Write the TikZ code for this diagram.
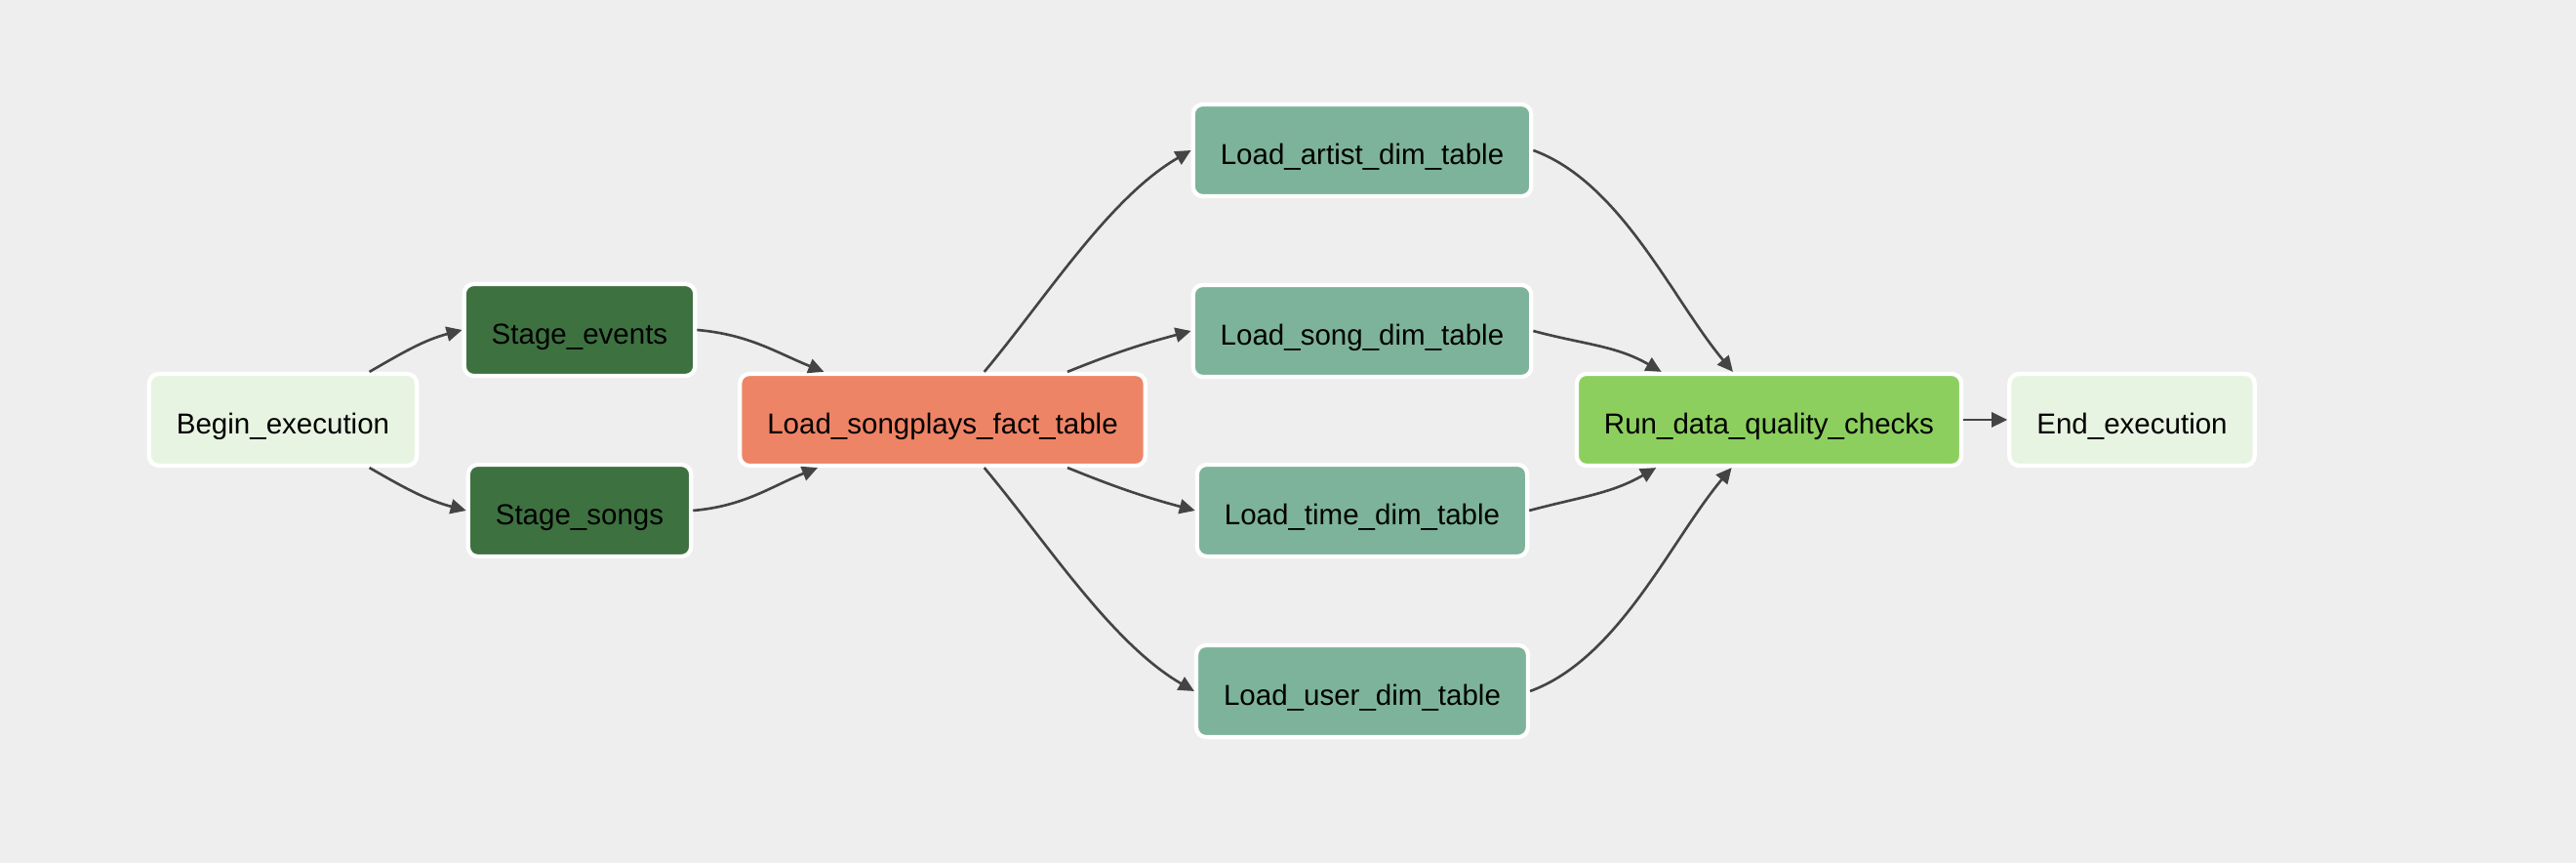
\documentclass[tikz,border=0pt]{standalone}
\usepackage{fontspec}
\setmainfont{Liberation Sans}
\usepackage{xcolor}
\usepackage{tikz}
\usetikzlibrary{arrows.meta,positioning,calc}

\definecolor{canvas}{HTML}{EEEEEE}
\definecolor{dummy}{HTML}{E8F4E2}
\definecolor{stage}{HTML}{3D7140}
\definecolor{fact}{HTML}{EE8466}
\definecolor{dim}{HTML}{7DB39A}
\definecolor{check}{HTML}{8CCF5F}
\definecolor{edge}{HTML}{444444}

\begin{document}
\begin{tikzpicture}[x=1cm,y=1cm,
  task/.style={draw=white,line width=1.2pt,rounded corners=2.8pt,minimum height=0.94cm,
    inner xsep=0.28cm,text height=8pt,text depth=0pt,font=\fontsize{8.4}{10}\selectfont},
  flow/.style={draw=edge,line width=0.75pt,-{Triangle[length=0.16cm,width=0.15cm]}}]
  \fill[canvas] (0,0) rectangle (26.4,8.84);
  \node[task,fill=dummy] (begin) at (2.90,4.54) {Begin\_execution};
  \node[task,fill=stage] (events) at (5.94,5.46) {Stage\_events};
  \node[task,fill=stage] (songs) at (5.94,3.61) {Stage\_songs};
  \node[task,fill=fact] (songplays) at (9.66,4.54) {Load\_songplays\_fact\_table};
  \node[task,fill=dim] (artist) at (13.96,7.30) {Load\_artist\_dim\_table};
  \node[task,fill=dim] (songdim) at (13.96,5.45) {Load\_song\_dim\_table};
  \node[task,fill=dim] (timedim) at (13.96,3.61) {Load\_time\_dim\_table};
  \node[task,fill=dim] (userdim) at (13.96,1.76) {Load\_user\_dim\_table};
  \node[task,fill=check] (quality) at (18.13,4.54) {Run\_data\_quality\_checks};
  \node[task,fill=dummy] (endexec) at (21.85,4.54) {End\_execution};
  \draw[flow] (begin.29) to[out=30,in=195] (events.west);
  \draw[flow] (begin.-29) to[out=-30,in=165] (songs.west);
  \draw[flow] (events.east) to[out=-5,in=158] (songplays.158.4);
  \draw[flow] (songs.east) to[out=5,in=202] (songplays.201.6);
  \draw[flow] (songplays.49.5) to[out=50,in=210,looseness=0.8] (artist.west);
  \draw[flow] (songplays.21.3) to[out=22,in=195] (songdim.west);
  \draw[flow] (songplays.-21.3) to[out=-22,in=165] (timedim.west);
  \draw[flow] (songplays.-49.5) to[out=-50,in=150,looseness=0.8] (userdim.west);
  \draw[flow] (artist.east) to[out=-20,in=130,looseness=0.8] (quality.127.6);
  \draw[flow] (songdim.east) to[out=-15,in=150] (quality.156.6);
  \draw[flow] (timedim.east) to[out=15,in=210] (quality.203.4);
  \draw[flow] (userdim.east) to[out=20,in=230,looseness=0.8] (quality.232.4);
  \draw[flow] (quality) -- (endexec);
\end{tikzpicture}
\end{document}
